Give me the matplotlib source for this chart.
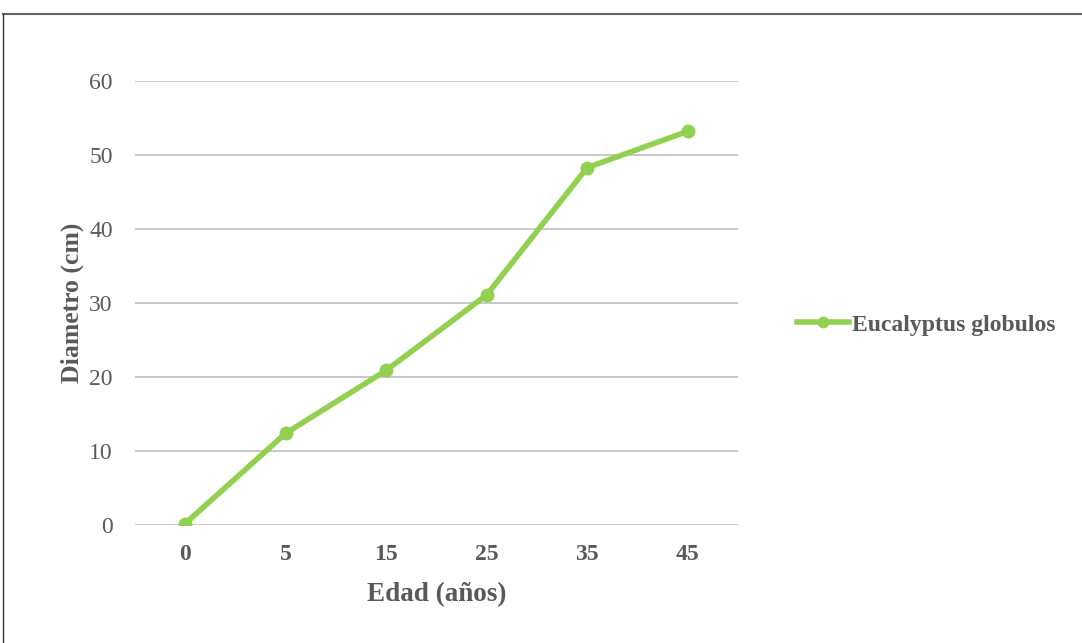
import matplotlib.pyplot as plt
from matplotlib.lines import Line2D

plt.rcParams['font.family'] = ['Liberation Serif', 'DejaVu Serif']

edad = ['0', '5', '15', '25', '35', '45']
diametro = [0.2, 12.4, 20.9, 31.1, 48.3, 53.2]
y_ticks = [0, 10, 20, 30, 40, 50, 60]

gris = '#595959'
verde = '#92D050'

fig = plt.figure(figsize=(10.82, 6.43), dpi=100)
ax = fig.add_axes([135 / 1082, 1 - 525 / 643, 603 / 1082, 444 / 643])

pos = list(range(len(edad)))
ax.plot(pos, diametro, color=verde, lw=4, marker='o', ms=9,
        solid_capstyle='round', label='Eucalyptus globulos', zorder=3)

ax.set_xlim(-0.5, len(edad) - 0.5)
ax.set_ylim(0, 60)
ax.set_yticks(y_ticks)
ax.set_xticks(pos)
ax.set_xticklabels(edad, fontweight='bold')
ax.tick_params(axis='both', length=0, labelsize=17, colors=gris)
ax.tick_params(axis='y', pad=16)
ax.tick_params(axis='x', pad=14)
ax.grid(axis='y', color='#BFBFBF', lw=1.2)
ax.set_axisbelow(True)
for s in ax.spines.values():
    s.set_visible(False)

ax.set_xlabel('Edad (años)', fontsize=19.5, fontweight='bold', color=gris, labelpad=12)
ax.set_ylabel('Diametro (cm)', fontsize=18.5, fontweight='bold', color=gris, labelpad=4)

leg = fig.legend(handles=[Line2D([0], [0], color=verde, lw=4, marker='o', ms=7.5)],
                 labels=['Eucalyptus globulos'], loc='center left',
                 bbox_to_anchor=(776 / 1082, 1 - 325 / 643), frameon=False,
                 handlelength=2.2, handletextpad=0.1,
                 prop={'size': 17, 'weight': 'bold'})
for t in leg.get_texts():
    t.set_color(gris)

# marco exterior
fig.add_artist(Line2D([3 / 1082, 1], [1 - 14 / 643] * 2, color='#666666', lw=1.5))
fig.add_artist(Line2D([3 / 1082] * 2, [0, 1 - 14 / 643], color='#333333', lw=1.0))

fig.savefig('out.png', dpi=100)
